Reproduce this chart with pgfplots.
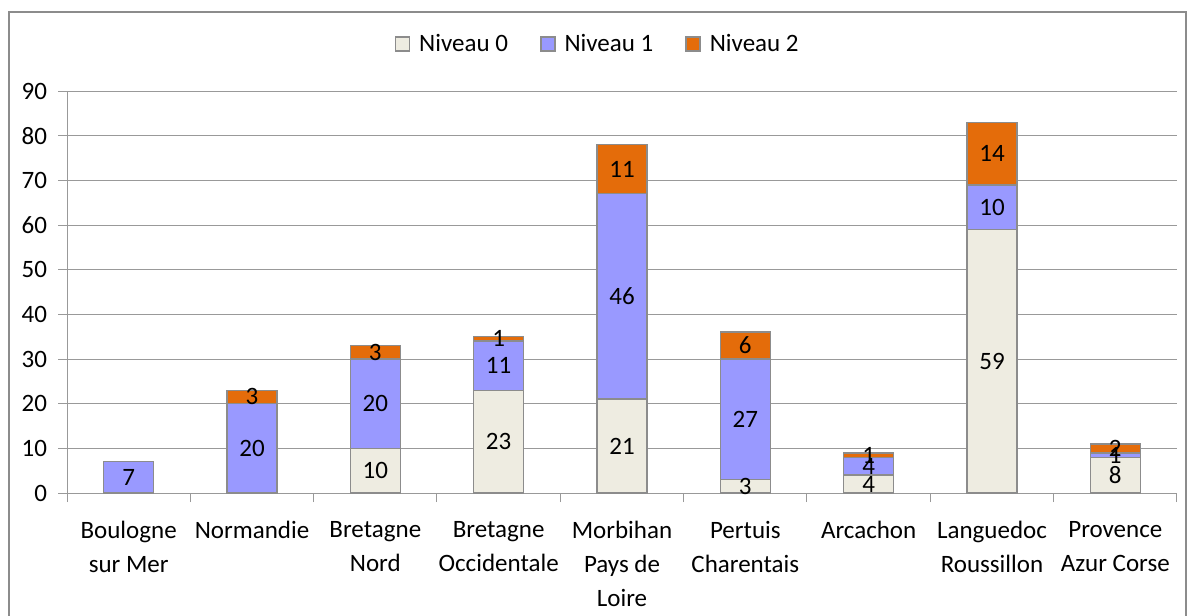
\documentclass[border=0pt]{standalone}
\usepackage{fontspec}
\setmainfont{Carlito}
\usepackage{pgfplots}
\pgfplotsset{compat=1.18}
\definecolor{nzero}{HTML}{EEECE1}
\definecolor{nlevone}{HTML}{9999FF}
\definecolor{nlevtwo}{HTML}{E46C0A}
\definecolor{bord}{HTML}{8C8C8C}
\definecolor{gridc}{HTML}{999999}
\newcommand{\cf}{\fontsize{12.5}{17}\selectfont}
\begin{document}
\begin{tikzpicture}
\pgfplotsset{
  common/.style={
    scale only axis, width=555pt, height=201pt,
    at={(0,0)}, anchor=south west,
    xmin=0.5, xmax=9.5, ymin=0, ymax=90,
  }
}
\begin{axis}[common,
  ybar stacked, bar width=25pt,
  axis x line*=bottom, axis y line*=left,
  axis line style={draw=gridc, line width=0.5pt},
  ytick={0,10,...,90},
  ymajorgrids, grid style={draw=gridc, line width=0.5pt},
  xtick={1,...,9},
  xticklabels={{Boulogne\\sur Mer},{Normandie},{Bretagne\\Nord},{Bretagne\\Occidentale},{Morbihan\\Pays de\\Loire},{Pertuis\\Charentais},{Arcachon},{Languedoc\\Roussillon},{Provence\\Azur Corse}},
  minor xtick={0.5,1.5,...,9.5},
  major x tick style={draw=none},
  tick align=outside,
  major tick length=4.5pt, minor tick length=4.5pt,
  tick style={draw=gridc, line width=0.5pt},
  /pgf/number format/assume math mode=true,
  tick label style={font=\cf},
  xticklabel style={align=center, yshift=-6pt},
  yticklabel style={xshift=-2pt},
  legend columns=3,
  legend style={at={(0.479,1.117)}, anchor=center, draw=none, font=\cf,
    /tikz/every even column/.append style={column sep=14pt}},
  legend image code/.code={\draw[#1, draw=bord, line width=0.75pt] (0pt,-3.5pt) rectangle (7pt,3.5pt); \path (9.5pt,0pt);},
]
\addplot[fill=nzero, draw=bord, line width=0.75pt] coordinates {(1,0) (2,0) (3,10) (4,23) (5,21) (6,3) (7,4) (8,59) (9,8)};
\addplot[fill=nlevone, draw=bord, line width=0.75pt] coordinates {(1,7) (2,20) (3,20) (4,11) (5,46) (6,27) (7,4) (8,10) (9,1)};
\addplot[fill=nlevtwo, draw=bord, line width=0.75pt] coordinates {(1,0) (2,3) (3,3) (4,1) (5,11) (6,6) (7,1) (8,14) (9,2)};
\legend{Niveau 0, Niveau 1, Niveau 2}
\end{axis}
\begin{axis}[common, hide axis]
\addplot[draw=none, mark=none, nodes near coords, point meta=explicit symbolic,
  nodes near coords align={center},
  every node near coord/.append style={font=\cf, text=black, inner sep=0pt}]
  table[meta=lab] {
x y lab
1 3.5 7
2 10 20
2 21.5 3
3 5 10
3 20 20
3 31.5 3
4 11.5 23
4 28.5 11
4 34.5 1
5 10.5 21
5 44 46
5 72.5 11
6 1.5 3
6 16.5 27
6 33 6
7 2 4
7 6 4
7 8.5 1
8 29.5 59
8 64 10
8 76 14
9 4 8
9 8.5 1
9 10 2
};
\end{axis}
\draw[draw=bord, line width=0.8pt] (-29pt,-70pt) -- (-29pt,240.5pt) -- (559.5pt,240.5pt) -- (559.5pt,-70pt);
\pgfresetboundingbox
\useasboundingbox (-33.5pt,-61pt) rectangle (560pt,246.5pt);
\end{tikzpicture}
\end{document}
